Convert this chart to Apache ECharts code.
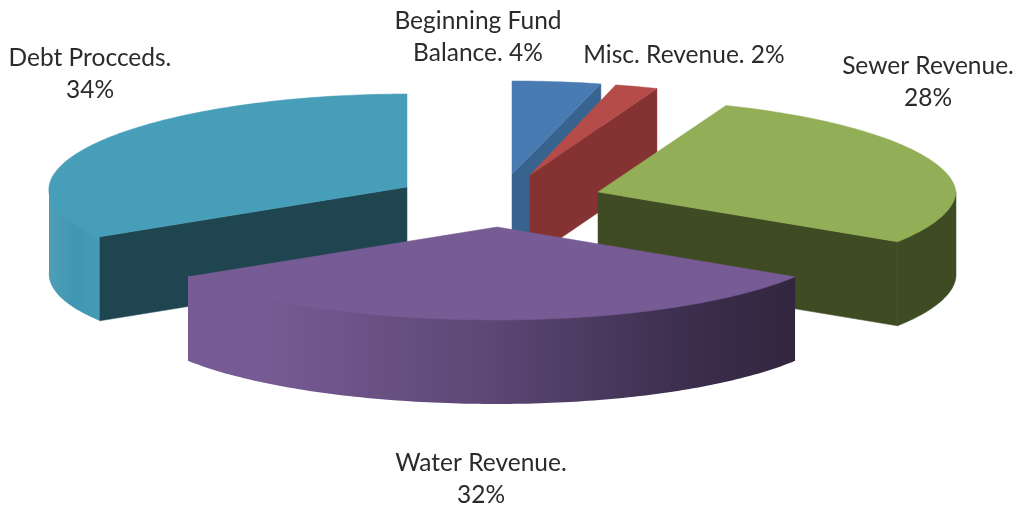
<!DOCTYPE html>
<html>
<head>
<meta charset="utf-8">
<style>html,body{margin:0;padding:0;background:#fff}#c{width:1019px;height:506px}</style>
<script src="https://cdn.jsdelivr.net/npm/echarts@6/dist/echarts.min.js"></script>
</head>
<body>
<div id="c"></div>
<script>
// Data (clockwise from 12 o'clock)
var categories = ['Beginning Fund\nBalance. 4%', 'Misc. Revenue. 2%', 'Sewer Revenue.\n28%', 'Water Revenue.\n32%', 'Debt Procceds.\n34%'];
var values = [4, 2, 28, 32, 34];

// Styles
var topColors = ['#4a7ab2', '#b64c49', '#92ae57', '#775b94', '#479eb9'];
var faceColors = ['#39638f', '#843332', '#3f4b23', '#32263f', '#1f4550'];
var wallColors = ['#39638f', '#843332', '#3f4b23', null, null];

// Layout: exploded apex of every slice, left/right radii, label anchors, paint order
var apexX = [512, 530, 598, 497, 407];
var apexY = [174, 175, 192, 227, 187];
var radiusL = [355, 355, 355, 366, 358];
var radiusR = [368, 355, 358, 353, 355];
var frontBulge = [0, 0, -6, 0, 11];
var backTaper = 11;
var radiusY = 93;
var depth = 84;
var labelX = [478, 684, 928, 481, 90];
var labelY = [37, 55, 82, 479, 74];
var paintOrder = [0, 1, 2, 4, 3];

var total = values.reduce(function (a, b) { return a + b; }, 0);
function rad(d) { return d * Math.PI / 180; }

function renderSlice(params, api) {
  var i = params.dataIndex;
  var before = 0;
  for (var k = 0; k < i; k++) before += values[k];
  var a0 = before / total * 360;
  var a1 = (before + api.value(0)) / total * 360;
  var cx = apexX[i], cy = apexY[i], rl = radiusL[i], rr = radiusR[i];
  function pt(a, dy) {
    var s = Math.sin(rad(a)), c = Math.cos(rad(a));
    var r = (s < 0 ? rl : rr) - backTaper * Math.max(0, c) + frontBulge[i] * Math.max(0, -c);
    return [cx + s * r, cy - c * radiusY + (dy || 0)];
  }
  function arc(from, to, dy) {
    var out = [], n = Math.max(2, Math.ceil(Math.abs(to - from)));
    for (var j = 0; j <= n; j++) out.push(pt(from + (to - from) * j / n, dy));
    return out;
  }
  var z = paintOrder.indexOf(i) * 10;
  var children = [];
  // outer curved wall: only the part from 90 to 270 degrees faces the viewer.
  // Its upper edge is pulled slightly under the top surface so that no seam shows.
  var w0 = Math.max(a0, 90), w1 = Math.min(a1, 270);
  if (w1 > w0) {
    var fill = wallColors[i];
    if (i === 3) {
      fill = new echarts.graphic.LinearGradient(0, 0, 1, 0, [
        { offset: 0, color: '#775b94' }, { offset: 0.12, color: '#775b94' },
        { offset: 0.5, color: '#5c4775' }, { offset: 0.82, color: '#3c2e4d' }, { offset: 1, color: '#32263f' }
      ]);
    } else if (i === 4) {
      fill = new echarts.graphic.LinearGradient(0, 0, 1, 0, [
        { offset: 0, color: '#4f9eb7' }, { offset: 0.45, color: '#4197b3' }, { offset: 1, color: '#479cb8' }
      ]);
    }
    var inner = arc(w0, w1, 0).map(function (p) {
      return [cx + (p[0] - cx) * 0.985, cy + (p[1] - cy) * 0.985];
    });
    children.push({
      type: 'polygon', z2: z,
      shape: { points: [pt(w0, 0)].concat(inner, [pt(w1, 0)], arc(w1, w0, depth)) },
      style: { fill: fill, stroke: i < 3 ? fill : null, lineWidth: 0.5 }
    });
  }
  // flat cut faces turned to the viewer
  var faces = [];
  if (a1 > 0 && a1 < 180) faces.push(a1);
  if (a0 > 180 && a0 < 360) faces.push(a0);
  faces.forEach(function (a) {
    var p = pt(a, 0);
    children.push({
      type: 'polygon', z2: z + 1,
      shape: { points: [[cx, cy], p, [p[0], p[1] + depth], [cx, cy + depth]] },
      style: { fill: faceColors[i], stroke: faceColors[i], lineWidth: 0.5 }
    });
  });
  // top surface
  children.push({
    type: 'polygon', z2: z + 2,
    shape: { points: [[cx, cy]].concat(arc(a0, a1, 0)) },
    style: { fill: topColors[i], stroke: topColors[i], lineWidth: 0.5 }
  });
  // label
  children.push({
    type: 'text', z2: 100,
    style: {
      x: labelX[i], y: labelY[i], text: categories[i], fill: '#2b2b2b',
      font: '24.5px Lato, "Open Sans", sans-serif', lineHeight: 32,
      textAlign: 'center', textVerticalAlign: 'middle'
    }
  });
  return { type: 'group', children: children };
}

var chart = echarts.init(document.getElementById('c'), null, { renderer: 'canvas' });
chart.setOption({
  animation: false,
  backgroundColor: '#ffffff',
  tooltip: { show: false },
  series: [{
    type: 'custom',
    coordinateSystem: 'none',
    renderItem: renderSlice,
    data: values.map(function (v) { return [v]; })
  }]
});
</script>
</body>
</html>
